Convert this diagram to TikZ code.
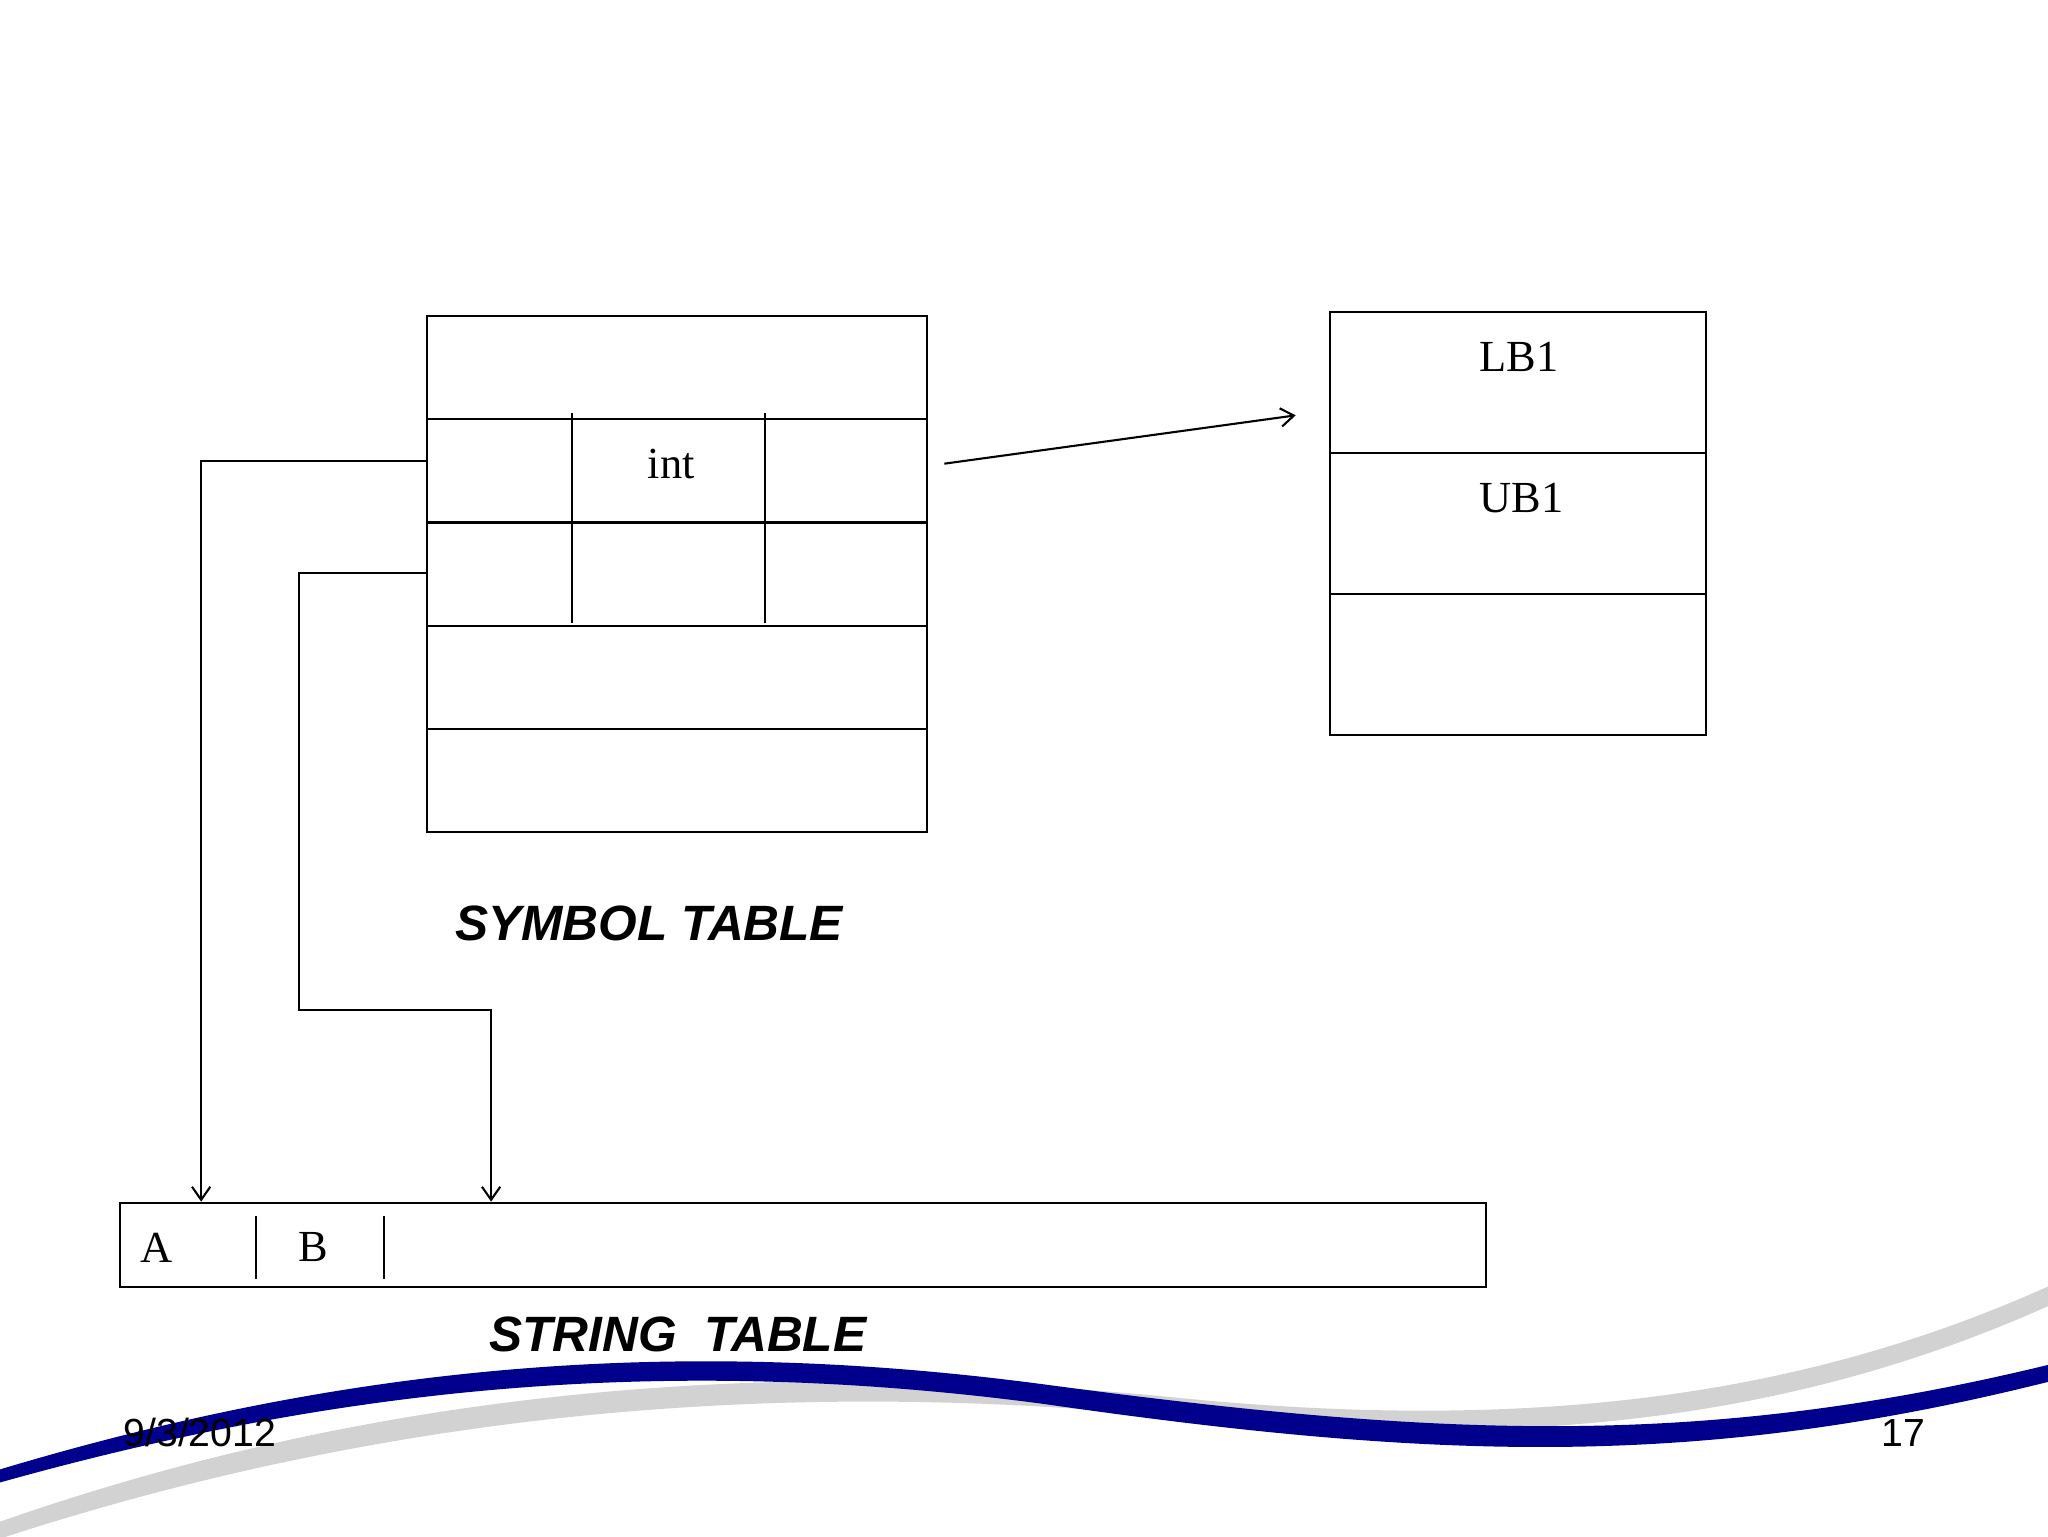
\documentclass[tikz,border=0pt]{standalone}
\usepackage{fontspec}
\usetikzlibrary{arrows.meta}
\setmainfont{Liberation Serif}
\setsansfont{Liberation Sans}
\begin{document}
\begin{tikzpicture}[x=1pt,y=-1pt,
  ln/.style={line width=1.6pt,black},
  arr/.style={ln,->,>={Straight Barb[length=10pt,width=14pt]}},
  cell/.style={font=\fontsize{34}{40}\selectfont},
  captext/.style={font=\sffamily\bfseries\itshape\fontsize{38}{44}\selectfont},
  foot/.style={font=\sffamily\fontsize{30}{34}\selectfont}]
\useasboundingbox (0,0) rectangle (1568,1176);
% swooshes
\fill[gray!35] (0,1165) .. controls (300,1060) and (600,1040) .. (900,1070) .. controls (1200,1100) and (1400,1060) .. (1568,985) -- (1568,1000) .. controls (1400,1075) and (1200,1115) .. (900,1085) .. controls (600,1055) and (300,1080) .. (0,1178) -- cycle;
\fill[blue!55!black] (0,1125) .. controls (250,1050) and (500,1020) .. (800,1060) .. controls (1100,1100) and (1300,1110) .. (1568,1045) -- (1568,1058) .. controls (1300,1125) and (1100,1118) .. (800,1075) .. controls (500,1035) and (250,1065) .. (0,1135) -- cycle;
% symbol table
\draw[ln] (327,242) rectangle (710,637);
\foreach \y in {321,400,479,558} \draw[ln] (327,\y) -- (710,\y);
\draw[ln] (438,316) -- (438,477);
\draw[ln] (586,316) -- (586,477);
\node[cell] (int) at (514,355) {int};
\coordinate (s1) at (327,353);
\coordinate (s2) at (327,439);
\coordinate (pa) at (723,355);
\coordinate (pb) at (992,318);
\draw[arr] (pa) -- (pb);
% right table
\draw[ln] (1018,239) rectangle (1306,563);
\draw[ln] (1018,347) -- (1306,347);
\draw[ln] (1018,455) -- (1306,455);
\node[cell] (lb) at (1163,273) {LB1};
\node[cell] (ub) at (1165,381) {UB1};
% string table
\draw[ln] (92,921) rectangle (1138,985);
\draw[ln] (196,931) -- (196,979);
\draw[ln] (294,931) -- (294,979);
\node[cell] (A) at (120,955) {A};
\node[cell] (B) at (240,955) {B};
\coordinate (tA) at (154,920);
\coordinate (tB) at (376,920);
\draw[arr] (s1) -- (154,353) -- (tA);
\draw[arr] (s2) -- (229,439) -- (229,773) -- (376,773) -- (tB);
\node[captext] (sym) at (497,707) {SYMBOL TABLE};
\node[captext] (str) at (519,1022) {STRING\ \ TABLE};
\node[foot] (date) at (153,1097) {9/3/2012};
\node[foot] (pg) at (1457,1097) {17};
\end{tikzpicture}
\end{document}
